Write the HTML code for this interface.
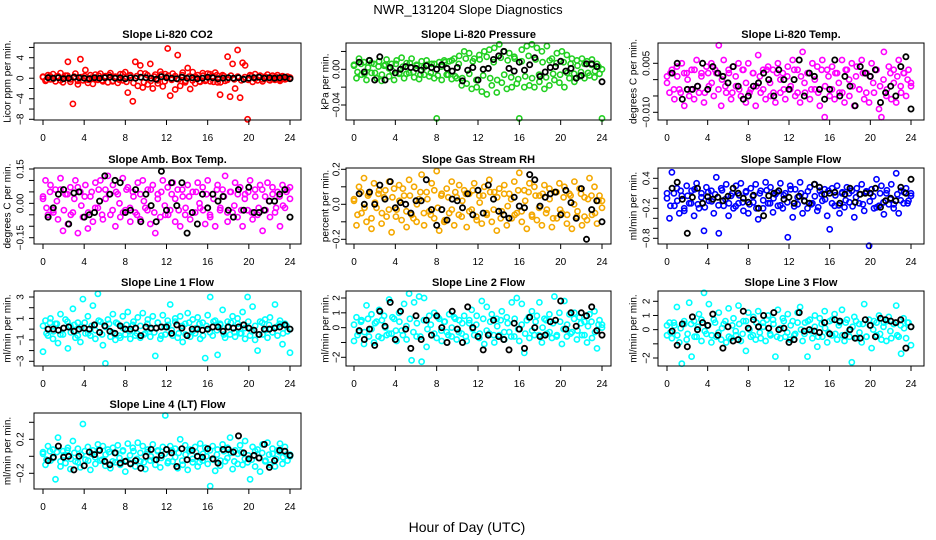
<!DOCTYPE html>
<html><head><meta charset="utf-8"><style>
html,body{margin:0;padding:0;background:#fff;}
svg{display:block;font-family:"Liberation Sans",sans-serif;}
</style></head><body>
<svg id="chart" width="936" height="540" viewBox="0 0 936 540" xmlns="http://www.w3.org/2000/svg">
<text x="468" y="14" text-anchor="middle" font-size="13">NWR_131204  Slope Diagnostics</text>
<text x="467" y="532" text-anchor="middle" font-size="14">Hour of Day (UTC)</text>
</svg>
<script>
// ---------- data (colored = all slopes, core = dense central slopes, black = flagged slopes) ----------
const co2 = [0.3,-0.5,0.6,-0.2,0.8,-0.6,0.4,1.0,-0.8,0.5,3.2,-0.7,-5,0.9,-1.2,3.7,-0.4,1.6,-0.9,0.6,-1.1,0.7,-0.3,0.9,-0.6,0.4,-0.8,1.0,-0.5,0.3,-0.9,0.8,-0.4,1.2,-2.8,0.6,-4.5,3.2,-1.5,2.5,-1.8,0.9,-1.2,2.8,-2.0,0.7,-1.0,1.3,-1.6,0.8,5.8,-3.4,0.9,-2.2,4.5,-1.5,1.1,-0.8,2.0,-2.1,1.2,-1.0,0.6,-0.7,1.0,-0.5,0.9,-0.6,0.4,1.1,-0.8,-3.2,0.6,-0.5,4.2,-3.6,2.8,-2.0,5.5,-3.8,3.0,2.5,-8,0.6,-0.7,0.8,-0.4,0.5,-0.6,0.3,0.7,-0.4,0.5,-0.3,0.6,-0.5,0.4,-0.2,0.3,0.1];
const co2Core = [0.2,-0.3,0.4,-0.1,0.3,-0.4,0.1,0.5,-0.2,0.3,-0.5,0.2,0.4,-0.3,0.1,-0.2,0.5,-0.4,0.3,0.6,-0.6,0.2,-0.3,0.8,-0.7,0.5,-0.9,0.4,1.0,-0.8,0.6,-0.5,0.3,-0.4,0.7,-0.6,0.5,-0.3,0.4,-0.2,0.6,-0.5,0.3,-0.4,0.2,-0.6,0.5,-0.3,0.8,-0.7,0.6,-0.8,0.4,-0.3,0.5,-0.2,0.3,-0.4,0.2,-0.3,0.4,-0.1,0.3,-0.2,0.2,-0.3,0.1,0.2,-0.2,0.3,-0.1,0.1];
const co2Black = [0.1,0,0.1,-0.1,0,0.2,0.1,0,-0.1,0.1,0,0.1,0.2,0,0.1,-0.1,0.1,0,0.2,0.1,0,-0.2,0.3,0.1,0,-0.1,0.2,0,0.1,-0.1,0,0.2,0.1,-0.1,0,0.1,0,0.1,-0.2,0,0.1,0.2,0,0.1,0,0.1,0.2,-0.1];
const pres = [0.005,-0.01,0.012,-0.006,0.008,-0.012,0.01,-0.004,0.006,-0.01,0.009,-0.013,0.004,0.011,-0.008,0.006,-0.012,0.01,-0.005,0.013,-0.01,0.007,-0.004,0.012,-0.009,0.005,-0.011,0.009,-0.006,0.01,-0.008,0.006,-0.01,-0.055,0.008,-0.012,0.01,-0.006,0.009,-0.011,0.012,-0.01,0.015,-0.018,0.02,-0.016,0.018,-0.022,0.012,-0.02,0.016,-0.025,0.02,-0.028,0.022,-0.018,0.024,-0.026,0.028,-0.015,0.02,-0.022,0.018,-0.02,0.014,-0.016,-0.055,0.022,-0.02,0.026,-0.018,0.028,-0.02,0.024,-0.014,0.02,-0.022,0.026,-0.018,0.012,-0.012,0.018,-0.015,0.02,-0.02,0.016,-0.01,0.012,-0.014,0.01,-0.008,0.012,-0.01,0.009,-0.007,0.011,-0.009,0.006,-0.005,-0.055];
const presCore = [0.004,-0.003,0.006,-0.005,0.002,0.007,-0.004,0.003,-0.006,0.005,0.001,-0.002,0.006,-0.004,0.003,-0.005,0.007,-0.003,0.004,-0.006,0.002,0.005,-0.004,0.006,-0.007,0.003,0.008,-0.006,0.01,-0.008,0.006,-0.01,0.012,-0.005,0.009,-0.012,0.011,-0.007,0.014,-0.01,0.008,-0.012,0.013,-0.006,0.01,-0.009,0.012,-0.011,0.009,-0.008,0.015,-0.01,0.011,-0.006,0.008,-0.009,0.01,-0.005,0.007,-0.006,0.008,-0.004,0.006,-0.005,0.004,-0.003,0.006,-0.004,0.005,-0.002,0.003,0];
const presBlack = [0.008,-0.003,0.01,-0.012,0.014,-0.012,0.002,-0.004,0,0.003,0.002,0.001,-0.001,0.004,0.002,0,0.005,0.001,-0.002,0.002,-0.013,-0.001,0.002,-0.012,0,0.001,0.011,0.015,0.02,0.001,-0.002,0.008,-0.001,0.005,0.013,-0.008,-0.003,0.002,0.003,0.009,-0.002,0.001,-0.01,-0.007,0.006,0.006,0.003,-0.014];
const temp = [0.001,-0.004,0.003,-0.006,0.004,-0.003,0.005,-0.008,0.002,-0.005,0.003,-0.006,0.006,-0.004,0.002,-0.007,0.004,-0.002,0.005,-0.005,0.002,0.0105,-0.008,0.006,-0.004,0.003,-0.006,0.004,-0.002,0.005,-0.005,0.003,-0.007,0.005,-0.003,0.002,-0.008,0.0075,-0.004,0.003,-0.006,0.004,-0.005,0.003,-0.007,0.005,-0.004,0.002,-0.006,0.004,-0.003,0.006,-0.005,0.003,-0.007,0.0085,-0.004,0.002,-0.006,0.005,-0.003,0.004,-0.008,0.006,-0.0115,0.003,-0.005,0.004,-0.006,0.002,-0.004,0.006,-0.007,0.003,-0.005,0.005,-0.008,0.004,-0.003,0.006,-0.006,0.002,-0.007,0.005,-0.004,0.003,-0.009,-0.0115,0.0085,-0.005,0.004,-0.006,0.003,-0.007,0.006,-0.004,0.002,-0.005,0.003,-0.002];
const tempCore = [-0.001,0.002,-0.003,0.001,-0.004,0.002,0,-0.003,0.003,-0.002,0.001,-0.004,0.002,-0.001,0.003,-0.003,0,-0.002,0.002,-0.004,0.001,-0.003,0.003,-0.001,-0.004,0.002,-0.002,0.001,-0.003,0.003,-0.001,-0.004,0.002,0,-0.003,0.001,-0.002,0.003,-0.004,0.001,-0.001,0.002,-0.003,0,-0.004,0.003,-0.002,0.001,-0.003,0.002,-0.001,-0.004,0.003,0,-0.002,0.001,-0.003,0.002,-0.004,0.001,-0.001,0.003,-0.002,0,-0.003,0.002,-0.001,0.001,-0.002,0.002,0,-0.001];
const tempBlack = [0.002,0.005,-0.006,-0.003,-0.003,-0.002,0.005,-0.003,0.004,0.002,0.001,-0.001,0.004,-0.002,-0.006,-0.005,-0.002,-0.001,0.002,0,-0.005,0.003,0,-0.003,0,0.006,-0.005,0.002,0.001,-0.003,-0.006,-0.003,0.006,-0.005,0.001,-0.002,-0.008,0.004,0.002,0.001,0.003,-0.007,-0.004,-0.002,-0.005,0.004,0.007,-0.009];
const amb = [0.02,0.1,-0.05,0.08,-0.03,0.06,-0.07,0.11,-0.12,0.04,-0.09,0.07,-0.04,0.1,-0.13,0.05,-0.06,0.08,-0.11,0.03,-0.08,0.09,-0.02,0.1,-0.07,0.06,0.12,-0.05,0.08,-0.1,0.04,-0.06,0.11,-0.03,0.07,-0.08,0.05,-0.04,0.09,-0.07,0.1,-0.02,0.06,-0.09,0.08,-0.13,0.04,-0.06,0.1,-0.05,0.07,-0.03,0.09,-0.08,0.06,-0.1,0.03,-0.05,0.08,-0.07,0.05,-0.04,0.09,-0.02,0.07,-0.09,0.1,-0.06,0.04,-0.1,0.08,-0.03,0.06,0.12,-0.08,0.05,-0.04,0.09,-0.06,0.07,-0.1,0.04,-0.03,0.1,-0.07,0.06,-0.05,0.08,-0.12,0.03,0.09,-0.06,0.07,-0.04,0.05,-0.1,0.08,-0.02,0.06,0.07];
const ambCore = [0.03,-0.02,0.05,-0.04,0.01,0.06,-0.03,0.04,-0.05,0.02,0.07,-0.01,0.03,-0.04,0.05,-0.02,0.06,-0.05,0.02,0.04,-0.03,0.05,0,-0.04,0.06,-0.02,0.03,-0.05,0.04,0.01,-0.03,0.06,-0.04,0.02,0.05,-0.01,-0.05,0.04,0.02,-0.03,0.06,-0.02,0.03,-0.04,0.05,0,-0.03,0.04,-0.05,0.02,0.06,-0.02,0.03,-0.04,0.05,-0.01,0.04,-0.03,0.02,0.05,-0.04,0.03,-0.02,0.06,-0.03,0.01,0.04,-0.02,0.03,-0.01,0.05,0.02];
const ambBlack = [-0.06,-0.02,0.04,0.06,-0.09,0.045,0.05,-0.06,-0.05,-0.04,0.01,0.12,0.04,0.1,0.09,-0.04,-0.03,0.06,-0.08,0.04,-0.01,-0.08,0.14,-0.03,0.09,-0.01,0.09,-0.13,-0.04,-0.09,0.04,-0.02,0.04,0.01,0.03,-0.03,-0.06,0.06,-0.03,0.07,-0.04,-0.04,-0.03,0.01,0.01,0.04,0.06,-0.06];
const rh = [0.02,-0.12,0.1,-0.05,0.15,-0.1,0.06,-0.14,0.12,-0.02,0.08,-0.11,0.04,-0.07,0.13,-0.16,0.09,-0.03,0.11,-0.09,0.05,-0.13,0.14,-0.06,0.1,-0.1,0.03,0.17,-0.12,0.07,-0.04,0.12,-0.08,0.19,-0.15,0.06,-0.1,0.09,-0.05,0.13,-0.12,0.04,0.11,-0.07,0.08,-0.13,0.06,-0.03,0.12,-0.09,0.05,-0.11,0.1,-0.06,0.14,-0.1,0.07,-0.15,0.09,-0.04,0.11,-0.12,0.06,-0.08,0.13,-0.05,0.18,-0.1,0.08,-0.14,0.12,-0.06,0.1,-0.09,0.05,-0.12,0.11,-0.03,0.09,-0.13,0.07,-0.08,0.12,-0.05,0.1,-0.11,0.06,-0.14,0.13,-0.07,0.09,-0.12,0.04,-0.09,0.15,-0.06,0.1,-0.11,0.05,0.02];
const rhCore = [0.03,-0.06,0.07,-0.02,0.05,-0.08,0.01,0.06,-0.05,0.08,-0.03,0.04,-0.07,0.02,0.09,-0.04,0.05,-0.08,0,0.07,-0.05,0.03,-0.06,0.08,-0.02,0.05,-0.09,0.04,-0.03,0.07,-0.06,0.02,0.06,-0.04,0.08,-0.07,0.01,0.05,-0.05,0.07,-0.03,0.04,-0.08,0.06,-0.01,0.03,-0.06,0.08,-0.04,0.02,0.07,-0.07,0.05,-0.02,0.06,-0.05,0.03,-0.08,0.07,-0.03,0.04,-0.06,0.05,0,-0.04,0.06,-0.07,0.03,0.05,-0.05,0.02,-0.02];
const rhBlack = [0.06,0,0.07,0,0.11,0.03,0.13,-0.02,0.01,0,-0.05,0.02,0.02,0.14,-0.03,-0.12,-0.03,-0.09,0.03,0.02,-0.02,0.06,-0.06,0.08,-0.05,0.11,0.03,-0.04,-0.06,-0.08,0.04,-0.01,-0.02,0.17,0.14,-0.01,0.04,0.06,0.07,-0.06,0.08,0.01,-0.08,0.09,-0.2,-0.03,0.02,-0.1];
const sflow = [0.1,-0.4,0.52,-0.15,0.2,-0.3,0.05,-0.25,0.25,-0.1,0.15,-0.35,0.3,-0.2,0.1,-0.65,0.22,-0.05,0.15,-0.3,0.42,-0.7,0.2,-0.15,0.28,-0.35,0.05,-0.2,0.25,-0.1,0.3,-0.25,0.12,-0.3,0.2,-0.08,0.28,-0.42,0.15,-0.2,0.32,-0.1,0.22,-0.28,0.08,-0.15,0.3,-0.2,0.1,-0.78,0.25,-0.38,0.18,-0.12,0.32,-0.3,0.05,-0.2,0.22,-0.1,0.28,-0.25,0.15,-0.05,0.18,-0.35,-0.62,0.2,-0.15,0.25,-0.3,0.1,-0.18,0.22,-0.08,0.15,-0.38,0.2,-0.1,0.28,-0.25,0.12,-0.95,0.18,-0.2,0.38,-0.15,0.25,-0.32,0.1,-0.12,0.28,-0.2,0.5,-0.3,0.15,-0.1,0.2,-0.05,0.1];
const sflowCore = [0,-0.15,0.1,-0.05,0.15,-0.2,0.05,-0.1,0.18,-0.12,0.02,-0.18,0.12,-0.06,0.08,-0.14,0.16,-0.02,-0.1,0.1,-0.16,0.06,-0.08,0.14,-0.12,0.04,-0.2,0.1,-0.04,0.16,-0.1,0,0.12,-0.14,0.06,-0.08,0.18,-0.16,0.02,0.1,-0.06,0.14,-0.12,0.04,-0.18,0.08,-0.02,0.15,-0.1,0.06,-0.14,0.12,-0.04,0.1,-0.16,0.02,0.08,-0.12,0.14,-0.06,0.04,-0.18,0.1,-0.08,0.16,-0.02,-0.12,0.08,-0.04,0.12,-0.1,0.05];
const sflowBlack = [0.2,0.32,-0.02,-0.7,0.02,0.2,-0.1,0.03,-0.02,0.02,-0.05,0.04,0.2,0.1,0,-0.08,0.06,-0.2,-0.35,0.05,0.1,0.15,-0.02,0.02,-0.1,0.04,-0.05,-0.1,0.28,0.22,0.08,0.1,0.12,-0.1,0.08,0.2,-0.08,0.08,0.1,0.1,0.2,-0.18,-0.05,0,-0.05,0.22,0.1,0.38];
const line1 = [-2.1,0.8,-0.6,1.0,-0.9,0.5,-1.3,1.4,-0.5,0.9,-1.8,0.3,1.9,-0.8,0.6,-1.2,2.8,-0.4,1.2,-0.6,2.2,-0.9,3.3,0.7,-1.5,-3.2,0.9,-0.7,1.4,-1.0,0.5,-0.8,1.2,-0.5,1.6,-0.9,0.4,-0.6,1.1,-0.8,1.5,-0.4,0.9,-0.7,1.2,-2.5,0.6,-0.9,1.3,-0.5,0.8,2.3,-0.6,1.0,-0.8,1.2,-1.2,0.5,1.5,-0.7,0.9,-0.4,1.1,-0.9,0.6,-2.7,1.3,3.0,-0.6,0.8,-2.4,0.5,1.8,-0.8,0.7,-0.5,1.2,-0.7,1.0,-0.4,1.6,-0.9,3.0,-0.6,2.1,-1.0,-2.0,0.7,-0.5,0.9,-0.8,1.1,-0.3,2.3,-0.6,0.8,-1.4,0.5,-0.2,-2.2];
const line1Core = [0.3,-0.4,0.6,-0.2,0.5,-0.5,0.1,0.7,-0.3,0.4,-0.6,0.2,0.6,-0.4,0.3,-0.1,0.8,-0.5,0.2,0.5,-0.3,0.6,-0.6,0.1,0.4,-0.2,0.7,-0.4,0.3,-0.5,0.5,0,-0.3,0.6,-0.6,0.2,0.4,-0.1,0.7,-0.4,0.3,-0.5,0.6,-0.2,0.1,0.5,-0.6,0.3,-0.3,0.7,-0.1,0.4,-0.5,0.2,0.6,-0.3,0.5,-0.4,0.1,0.7,-0.2,0.3,-0.5,0.6,-0.1,0.4,-0.3,0.2,0.5,-0.4,0.3,0];
const line1Black = [0,0,-0.1,0.1,0.2,-0.2,0,0.1,0,0.4,-0.3,0.3,-0.2,-0.4,0.3,0,0,0.1,-0.6,0.2,0.1,0.1,0.2,0.2,-0.4,0.4,0.1,-0.6,0,0,-0.1,0,0.2,0.2,-0.2,0.2,0.1,0.2,0.4,0.1,-0.1,-0.5,0,0,0.1,0.2,0.4,0];
const line2 = [-0.9,0.7,-0.3,0.5,-1.1,1.5,-0.6,0.9,-1.0,0.4,1.2,-0.7,0.8,-0.5,1.9,-0.4,0.6,-0.9,1.0,-0.2,1.6,-0.8,2.3,-2.2,1.7,-0.6,2.1,-2.3,2.0,-1.3,0.8,-0.5,1.0,-0.7,0.6,-0.9,0.4,-0.3,0.9,-0.6,0.7,-0.8,0.5,-0.4,0.8,-0.9,0.3,1.2,-0.5,0.8,-0.7,1.8,-1.1,1.4,-0.4,0.9,-1.0,0.6,-0.5,1.1,-0.8,0.7,-0.3,1.7,-0.6,2.0,-0.9,1.6,-1.7,0.5,-0.7,1.1,-0.5,0.8,1.7,-1.0,0.6,-0.4,0.9,-0.7,2.1,-0.5,1.0,-1.1,1.8,-0.6,0.9,-0.3,1.0,-0.8,0.7,-0.5,0.4,-1.0,0.9,-0.7,1.1,-1.4,0.5,0.2];
const line2Core = [0.2,-0.5,0.4,-0.3,0.6,-0.1,0.3,-0.6,0.5,0,-0.4,0.7,-0.2,0.4,-0.5,0.1,0.6,-0.3,0.3,-0.6,0.5,-0.1,0.2,-0.4,0.7,-0.2,0.4,-0.5,0,0.6,-0.3,0.3,-0.6,0.5,-0.1,0.2,-0.4,0.6,-0.2,0.4,-0.5,0.1,0.5,-0.3,0.3,-0.6,0.6,-0.1,0.2,-0.4,0.7,-0.2,0.4,-0.5,0,0.5,-0.3,0.3,-0.6,0.4,-0.1,0.2,-0.4,0.6,-0.2,0.3,-0.5,0.1,0.4,-0.3,0.2,0];
const line2Black = [-0.2,-0.8,-0.1,-1.2,1.1,0.1,1.7,-0.8,1.1,-0.1,-1.4,0.8,-0.8,0.5,-0.5,0.8,0,-1.0,1.1,-0.1,-1.0,1.4,0,-0.6,-1.5,-0.5,0.5,-0.6,-0.8,-1.5,0.3,-0.1,-1.4,0.7,0,-0.6,-0.5,0.4,0.5,1.8,-0.1,1.0,0.1,1.0,0.8,1.4,-0.2,-0.5];
const line3 = [-0.4,0.5,-0.6,0.3,1.6,-0.9,-2.4,0.4,-0.7,1.9,-1.9,0.6,-0.5,1.1,-0.8,2.6,-0.3,1.8,-0.9,0.7,-0.5,1.2,-0.7,0.4,-0.9,1.5,-0.6,0.8,-0.4,1.7,-0.8,0.6,-1.5,1.2,-0.5,0.9,-0.7,1.3,-0.6,0.5,-0.8,1.0,-0.4,0.7,-1.9,1.4,-0.6,0.8,-0.5,1.1,-0.7,0.6,-0.3,1.2,1.6,-0.8,0.5,-1.9,0.7,-0.6,1.0,-1.2,0.8,-0.5,1.3,-0.9,0.6,-0.4,1.1,-0.7,0.5,1.4,-0.8,0.7,-0.5,-2.3,0.9,-0.6,0.4,-0.9,1.8,-0.5,0.7,-1.3,0.6,-0.4,1.0,-0.7,0.5,-0.8,0.9,-0.6,0.4,1.7,-0.5,-1.7,0.8,-0.6,0.5,-1.1];
const line3Core = [0.3,-0.2,0.5,-0.4,0.1,0.6,-0.3,0.4,-0.5,0.2,0.7,-0.1,0.3,-0.4,0.5,-0.2,0.1,0.6,-0.5,0.3,-0.1,0.4,-0.3,0.6,0,-0.4,0.5,-0.2,0.2,0.7,-0.3,0.4,-0.5,0.1,0.6,-0.2,0.3,-0.4,0.5,0,-0.3,0.6,-0.1,0.2,-0.5,0.4,0.1,-0.2,0.7,-0.3,0.3,-0.4,0.5,-0.1,0.2,0.6,-0.2,0.4,-0.5,0.3,0,0.5,-0.3,0.2,0.6,-0.1,0.4,-0.4,0.3,0.1,0.5,0.2];
const line3Black = [-0.1,-1.1,0.4,-1.2,0.9,0,0.5,0.3,1.1,-0.4,-1.3,0.2,-0.8,-0.7,1.3,0.1,0.7,0.2,1.0,0.1,1.2,0,0.1,-0.9,-0.7,1.2,-0.1,0,-0.1,-0.2,0.5,-0.3,0.7,0.6,-0.4,0,-0.6,-0.6,0.7,0.3,-0.5,0.8,0.7,0.6,0.5,0.7,-1.3,0.2];
const line4 = [0.05,-0.1,0.12,-0.05,0.08,-0.27,0.22,-0.12,0.06,-0.08,0.1,-0.15,0.18,-0.06,0.09,-0.13,0.38,-0.04,0.11,-0.16,0.07,-0.09,0.14,-0.05,0.12,-0.11,0.08,-0.14,0.1,-0.07,0.13,-0.1,0.06,-0.18,0.15,-0.08,0.1,-0.12,0.16,-0.06,0.12,-0.15,0.08,-0.05,0.14,-0.1,0.07,-0.13,0.11,0.48,-0.08,0.12,-0.06,0.09,-0.14,0.2,-0.1,0.13,-0.16,0.08,-0.07,0.11,-0.12,0.15,-0.05,0.1,-0.09,-0.35,0.12,-0.17,0.08,-0.11,0.14,-0.06,0.1,0.22,-0.15,0.07,-0.09,0.13,-0.1,0.18,-0.07,-0.27,0.11,-0.12,0.08,-0.18,0.14,-0.06,0.16,-0.1,0.09,-0.12,0.07,0.15,-0.09,0.11,-0.05,0.02];
const line4Core = [0.03,-0.04,0.06,-0.02,0.05,-0.06,0.01,0.07,-0.03,0.04,-0.07,0.02,0.06,-0.05,0.03,-0.01,0.08,-0.04,0.02,0.05,-0.06,0.04,-0.02,0.07,-0.05,0.01,0.06,-0.03,0.04,-0.07,0.05,0,-0.04,0.06,-0.02,0.03,-0.06,0.07,-0.01,0.04,-0.05,0.02,0.06,-0.03,0.05,-0.07,0.03,0,0.07,-0.04,0.02,-0.05,0.06,-0.02,0.04,-0.06,0.03,0.05,-0.03,0.01,-0.04,0.06,-0.02,0.04,-0.05,0.02,0.03,-0.03,0.05,-0.01,0.02,0];
const line4Black = [-0.05,-0.01,0.12,-0.01,0,-0.16,0,-0.11,0.05,0.02,0.07,-0.06,-0.1,0.04,-0.08,-0.06,-0.09,-0.05,-0.14,0,0.08,-0.04,0.01,0.08,0.04,-0.12,0.09,-0.04,0.07,0,-0.01,0.09,-0.03,-0.08,0.08,0.08,0.05,0.24,0.04,-0.03,0.01,-0.02,0.14,-0.13,-0.05,0.07,0.06,0.01];
const xTicks = [0,4,8,12,16,20,24];
const panelTitles = ["Slope Li-820 CO2","Slope Li-820 Pressure","Slope Li-820 Temp.","Slope Amb. Box Temp.","Slope Gas Stream RH","Slope Sample Flow","Slope Line 1 Flow","Slope Line 2 Flow","Slope Line 3 Flow","Slope Line 4 (LT) Flow"];
const yTitles = ["Licor ppm per min.","kPa per min.","degrees C per min.","degrees C per min.","percent per min.","ml/min per min.","ml/min per min.","ml/min per min.","ml/min per min.","ml/min per min."];
const yTicks = [[-8,-6,-4,-2,0,2,4,6],[-0.04,-0.02,0,0.02],[-0.01,-0.005,0,0.005],[-0.15,-0.1,-0.05,0,0.05,0.1,0.15],[-0.2,-0.1,0,0.1,0.2],[-0.8,-0.6,-0.4,-0.2,0,0.2,0.4],[-3,-2,-1,0,1,2,3],[-2,-1,0,1,2],[-2,-1,0,1,2],[-0.2,0,0.2,0.4]];
const yTickLabels = [{"-8":"-8","-4":"-4","0":"0","4":"4"},{"-0.04":"-0.04","0":"0.00"},{"-0.01":"-0.010","0.005":"0.005"},{"-0.15":"-0.15","0":"0.00","0.15":"0.15"},{"-0.2":"-0.2","0":"0.0","0.2":"0.2"},{"-0.8":"-0.8","-0.2":"-0.2","0.4":"0.4"},{"-3":"-3","-1":"-1","1":"1","3":"3"},{"-2":"-2","0":"0","1":"1","2":"2"},{"-2":"-2","0":"0","1":"1","2":"2"},{"-0.2":"-0.2","0.2":"0.2"}];
const seriesColored = [co2,pres,temp,amb,rh,sflow,line1,line2,line3,line4];
const seriesCore = [co2Core,presCore,tempCore,ambCore,rhCore,sflowCore,line1Core,line2Core,line3Core,line4Core];
const seriesBlack = [co2Black,presBlack,tempBlack,ambBlack,rhBlack,sflowBlack,line1Black,line2Black,line3Black,line4Black];

// ---------- layout (pixels) ----------
const cols = [{l:34,r:301,x0:43,x24:290,tt:8,tl:21},{l:346,r:611,x0:354,x24:602,tt:326,tl:337},{l:658,r:924,x0:667,x24:911,tt:634,tl:647}];
const rows = [{t:43,b:120},{t:168,b:244},{t:291,b:366},{t:413,b:489}];
const ycal = [[4,57.7,-8,119.3],[0,69.3,-0.04,105],[0.005,63.3,-0.01,112.3],[0.15,169,-0.15,237.7],[0.2,169.3,-0.2,239.3],[0.4,178.3,-0.8,238.3],[3,297,-3,361.3],[2,298,-2,357.3],[2,301.3,-2,358],[0.2,439.3,-0.2,473.3]];
const colors = ["#ff0000","#22d022","#ff00ff","#ff00ff","#f4a800","#0000ff","#00ffff","#00ffff","#00ffff","#00ffff"];

const NS="http://www.w3.org/2000/svg";
const svg=document.getElementById('chart');
function mk(tag,attrs,parent){const e=document.createElementNS(NS,tag);for(const k in attrs)e.setAttribute(k,attrs[k]);(parent||svg).appendChild(e);return e;}

for(let p=0;p<10;p++){
  const c=cols[p%3], r=rows[Math.floor(p/3)], cal=ycal[p];
  const xs=h=>c.x0+(c.x24-c.x0)*h/24;
  const ys=v=>cal[1]+(v-cal[0])*(cal[3]-cal[1])/(cal[2]-cal[0]);
  const g=mk('g',{});
  
  
  const t=mk('text',{x:(c.l+c.r)/2,y:r.t-5,'text-anchor':'middle','font-size':'11','font-weight':'bold'},g);
  t.textContent=panelTitles[p];
  
  
  const yt=mk('text',{x:c.tt,y:(r.t+r.b)/2,'text-anchor':'middle','font-size':'10',transform:`rotate(-90 ${c.tt} ${(r.t+r.b)/2})`,'dominant-baseline':'middle'},g);
  yt.textContent=yTitles[p];
  
  
  // colored points (core + full)
  const pg=mk('g',{fill:'none'},g);
  
  
  [seriesCore[p],seriesColored[p]].forEach(arr=>{
    const n=arr.length;
    arr.forEach((v,i)=>{
      const pt=mk('circle',{cx:xs(24*i/(n-1)).toFixed(1),cy:ys(v).toFixed(1),r:2.6,stroke:colors[p],'stroke-width':1.6},pg);
      
      
    });
  });
  const bg=mk('g',{fill:'none'},g);
  
  
  seriesBlack[p].forEach((v,i)=>{
    const pt=mk('circle',{cx:xs(0.5+0.5*i).toFixed(1),cy:ys(v).toFixed(1),r:2.6,stroke:'#000','stroke-width':1.8},bg);
    
    
  });
  // box
  const box=mk('rect',{x:c.l,y:r.t,width:c.r-c.l,height:r.b-r.t,fill:'none',stroke:'#000','stroke-width':1},g);
  
  
  // x axis
  const xa=mk('g',{},g);
  
  
  mk('line',{x1:xs(0),x2:xs(24),y1:r.b,y2:r.b,stroke:'#000'},xa);
  xTicks.forEach(h=>{
    mk('line',{x1:xs(h),x2:xs(h),y1:r.b,y2:r.b+5,stroke:'#000'},xa);
    const tl=mk('text',{x:xs(h),y:r.b+21,'text-anchor':'middle','font-size':'10'},xa);
    tl.textContent=h;
    
    
  });
  // y axis
  const ya=mk('g',{},g);
  
  
  const tk=yTicks[p];
  mk('line',{x1:c.l,x2:c.l,y1:ys(tk[0]),y2:ys(tk[tk.length-1]),stroke:'#000'},ya);
  tk.forEach(v=>{
    const y=ys(v);
    mk('line',{x1:c.l-5,x2:c.l,y1:y,y2:y,stroke:'#000'},ya);
    const lab=yTickLabels[p][String(v)];
    if(lab!==undefined){
      const tl=mk('text',{x:c.tl,y:y,'text-anchor':'middle','font-size':'10','dominant-baseline':'middle',transform:`rotate(-90 ${c.tl} ${y})`},ya);
      tl.textContent=lab.replace('-','\u2212');
      
      
    }
  });
}
</script>
</body></html>
